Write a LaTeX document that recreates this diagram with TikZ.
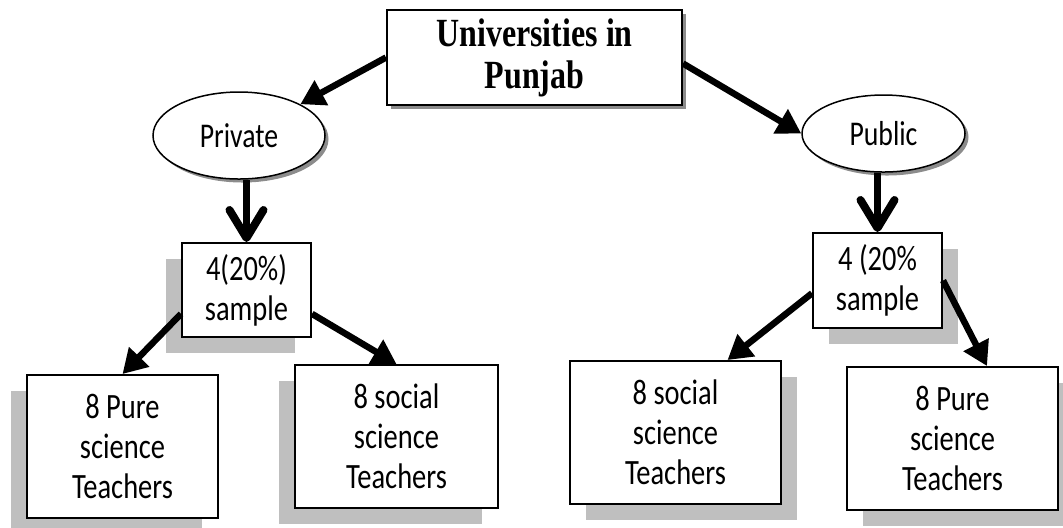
\documentclass[tikz,border=0pt]{standalone}
\usepackage{fontspec}
\usepackage{graphicx}
\setmainfont{Carlito}
\newfontfamily\headfont{Liberation Serif}
\usetikzlibrary{arrows.meta,shapes.geometric,shadows}

\newcommand{\tall}[1]{\scalebox{1}[1.25]{#1}}

\tikzset{
  boxnode/.style={draw, line width=0.02cm, fill=white, align=center, inner sep=0pt,
    font=\fontsize{8.1}{11.4}\selectfont},
  ovalnode/.style={draw, ellipse, line width=0.015cm, fill=white, inner sep=0pt,
    font=\fontsize{7.9}{9.4}\selectfont},
  lshadow/.style={drop shadow={shadow xshift=-0.16cm, shadow yshift=-0.16cm, opacity=1, fill=black!25}},
  rshadow/.style={drop shadow={shadow xshift=0.16cm, shadow yshift=-0.16cm, opacity=1, fill=black!25}},
  thinshadow/.style={drop shadow={shadow xshift=0.035cm, shadow yshift=-0.035cm, opacity=1, fill=black!45}},
  flow/.style={line width=0.065cm, -{Triangle[length=0.24cm, width=0.27cm]}},
  downflow/.style={line width=0.07cm, -{Straight Barb[length=0.28cm, width=0.34cm, line width=0.08cm, round]}}
}

\begin{document}
\begin{tikzpicture}
\useasboundingbox (0,0) rectangle (10.63,-5.27);

\node[boxnode, thinshadow, minimum width=2.95cm, minimum height=0.95cm,
  font=\headfont\bfseries\fontsize{9.1}{11.9}\selectfont] (top) at (5.345,-0.575) {\tall{Universities in}\\\tall{Punjab}};
\node[ovalnode, thinshadow, minimum width=1.72cm, minimum height=0.87cm] (private) at (2.39,-1.355) {\tall{Private}};
\node[ovalnode, thinshadow, minimum width=1.63cm, minimum height=0.77cm] (public) at (8.835,-1.335) {\tall{Public}};

\node[boxnode, lshadow, minimum width=1.29cm, minimum height=0.94cm] (lsample) at (2.465,-2.90) {\tall{4(20\%)}\\\tall{sample}};
\node[boxnode, rshadow, minimum width=1.29cm, minimum height=0.95cm] (rsample) at (8.775,-2.805) {\tall{4 (20\%}\\\tall{sample}};

\node[boxnode, lshadow, minimum width=1.91cm, minimum height=1.43cm] (lpure) at (1.225,-4.465) {\tall{8 Pure}\\\tall{science}\\\tall{Teachers}};
\node[boxnode, lshadow, minimum width=2.03cm, minimum height=1.43cm] (lsocial) at (3.965,-4.365) {\tall{8 social}\\\tall{science}\\\tall{Teachers}};
\node[boxnode, rshadow, minimum width=2.11cm, minimum height=1.43cm] (rsocial) at (6.755,-4.325) {\tall{8 social}\\\tall{science}\\\tall{Teachers}};
\node[boxnode, rshadow, minimum width=2.11cm, minimum height=1.43cm] (rpure) at (9.525,-4.385) {\tall{8 Pure}\\\tall{science}\\\tall{Teachers}};

\draw[flow] (top.west) -- (private.north east);
\draw[flow] ([yshift=-0.06cm]top.east) -- (public.west);
\draw[downflow] (private.south -| lsample.north) -- (lsample.north);
\draw[downflow] (public.south -| rsample.north) -- (rsample.north);
\draw[flow] (lsample.200) -- (lpure.north);
\draw[flow] (lsample.-20) -- (lsocial.north);
\draw[flow] (rsample.191) -- ([xshift=0.52cm]rsocial.north);
\draw[flow] (rsample.east) -- ([xshift=0.345cm]rpure.north);
\end{tikzpicture}
\end{document}
